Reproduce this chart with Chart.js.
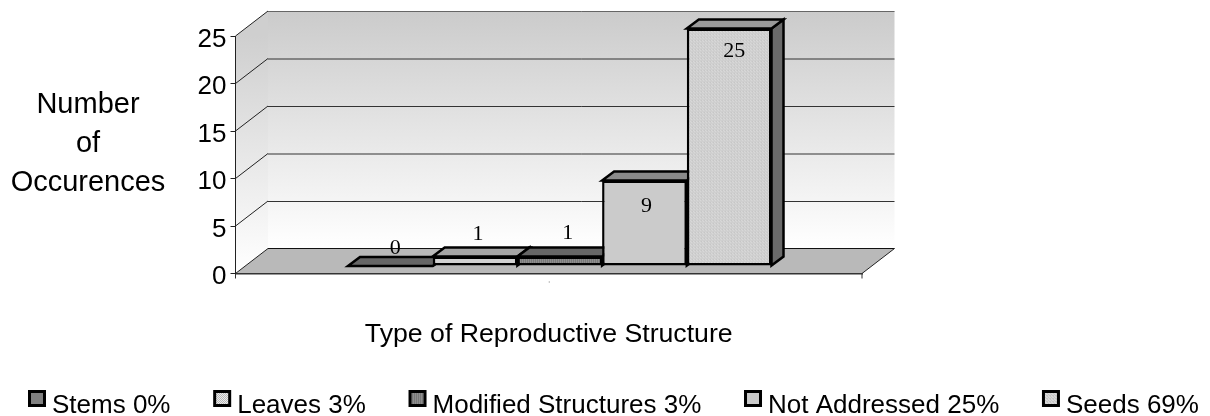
<!DOCTYPE html>
<html>
<head>
<meta charset="utf-8">
<style>html,body{margin:0;padding:0;background:#fff}#box{width:1210px;height:416px}</style>
<script src="https://cdn.jsdelivr.net/npm/chart.js@4/dist/chart.umd.min.js"></script>
</head>
<body>
<div id="box"><canvas id="c" width="1210" height="416"></canvas></div>
<script>
const categories = [""];
const seriesNames = ["Stems", "Leaves", "Modified Structures", "Not Addressed", "Seeds"];
const seriesShares = ["0%", "3%", "3%", "25%", "69%"];
const stemsValues = [0];
const leavesValues = [1];
const modifiedValues = [1];
const notAddressedValues = [9];
const seedsValues = [25];
const yTicks = [0, 5, 10, 15, 20, 25];
const yAxisTitle = ["Number", "of", "Occurences"];
const xAxisTitle = "Type of Reproductive Structure";

// depth geometry (pixels)
const WALL = {dx: 32.5, dy: -25};
const BAR_SHIFT = {dx: 11, dy: -7.5};
const BAR_DEPTH = {dx: 12, dy: -9};
const SANS = '"Liberation Sans", Arial, sans-serif';
const SERIF = '"Liberation Serif", "Times New Roman", serif';
const LABEL_NUDGE = [[5, -18], [3, -22], [8, -23], [2, 26], [5, 23]];

function pattern(w, h, bg, fg, cells) {
  const c = document.createElement('canvas'); c.width = w; c.height = h;
  const x = c.getContext('2d');
  x.fillStyle = bg; x.fillRect(0, 0, w, h);
  x.fillStyle = fg; cells.forEach(p => x.fillRect(p[0], p[1], 1, 1));
  return x.createPattern(c, 'repeat');
}
const FRONTS = [
  '#808080',
  pattern(2, 2, '#ececec', '#b8b8b8', [[0, 0], [1, 1]]),
  pattern(2, 1, '#8e8e8e', '#787878', [[0, 0]]),
  '#cbcbcb',
  pattern(3, 3, '#d8d8d8', '#c6c6c6', [[0, 0], [1, 1], [2, 2], [0, 2]])
];
const TOPS = ['#666666', '#a6a6a6', '#666666', '#8a8a8a', '#9a9a9a'];
const SIDES = ['#555555', '#777777', '#555555', '#777777', '#6a6a6a'];

function poly(ctx, pts, fill, stroke, lw) {
  ctx.beginPath();
  pts.forEach((p, i) => i ? ctx.lineTo(p[0], p[1]) : ctx.moveTo(p[0], p[1]));
  ctx.closePath();
  if (fill) { ctx.fillStyle = fill; ctx.fill(); }
  if (stroke) { ctx.strokeStyle = stroke; ctx.lineWidth = lw; ctx.lineJoin = 'miter'; ctx.stroke(); }
}
function seg(ctx, x0, y0, x1, y1, color, lw) {
  ctx.beginPath(); ctx.moveTo(x0, y0); ctx.lineTo(x1, y1);
  ctx.strokeStyle = color; ctx.lineWidth = lw; ctx.stroke();
}

const scene3d = {
  id: 'scene3d',
  beforeDraw(chart) {
    const {ctx, chartArea: a, scales: {y}} = chart;
    const L = a.left, R = a.right, T = y.getPixelForValue(25), B = y.getPixelForValue(0);
    const dx = WALL.dx, dy = WALL.dy;
    ctx.save();
    const g = ctx.createLinearGradient(0, T + dy, 0, B + dy);
    g.addColorStop(0, '#cbcbcb'); g.addColorStop(1, '#ffffff');
    poly(ctx, [[L + dx, T + dy], [R + dx, T + dy], [R + dx, B + dy], [L + dx, B + dy]], g);
    const g2 = ctx.createLinearGradient(0, T, 0, B);
    g2.addColorStop(0, '#cfcfcf'); g2.addColorStop(1, '#ffffff');
    poly(ctx, [[L, T], [L + dx, T + dy], [L + dx, B + dy], [L, B]], g2);
    poly(ctx, [[L, B], [L + dx, B + dy], [R + dx, B + dy], [R, B]], '#b9b9b9');
    yTicks.forEach(v => {
      const py = y.getPixelForValue(v);
      if (v > 0) seg(ctx, L + dx, py + dy + 0.5, R + dx, py + dy + 0.5, v === 25 ? '#666' : '#333', 1);
      seg(ctx, L, py, L + dx, py + dy, '#222', 1);
    });
    seg(ctx, L + dx, B + dy, R + dx, B + dy, '#111', 1.2);
    seg(ctx, R, B, R + dx, B + dy, '#222', 1);
    seg(ctx, R, B, R, B + 5, '#333', 1);
    seg(ctx, L, B, L, B + 5, '#333', 1);
    ctx.fillStyle = '#bbb'; ctx.fillRect((L + R) / 2, B + 7.5, 1, 2);
    ctx.restore();
  },
  beforeDatasetsDraw(chart) {
    const {ctx} = chart;
    ctx.save();
    ctx.translate(BAR_SHIFT.dx, BAR_SHIFT.dy);
    chart.data.datasets.forEach((d, i) => {
      const b = chart.getDatasetMeta(i).data[0];
      const l = b.x - b.width / 2, r = b.x + b.width / 2;
      const dx = BAR_DEPTH.dx, dy = BAR_DEPTH.dy;
      poly(ctx, [[r, b.y], [r + dx, b.y + dy], [r + dx, b.base + dy], [r, b.base]], SIDES[i], '#000', 2.5);
      poly(ctx, [[l, b.y], [l + dx, b.y + dy], [r + dx, b.y + dy], [r, b.y]], TOPS[i], '#000', 2.5);
    });
  },
  afterDatasetsDraw(chart) {
    const {ctx} = chart;
    ctx.restore();
    ctx.save();
    ctx.font = '22px ' + SERIF;
    ctx.fillStyle = '#000';
    ctx.textAlign = 'center';
    ctx.textBaseline = 'middle';
    chart.data.datasets.forEach((d, i) => {
      const b = chart.getDatasetMeta(i).data[0];
      ctx.fillText(String(d.data[0]), b.x + LABEL_NUDGE[i][0] + BAR_SHIFT.dx, b.y + LABEL_NUDGE[i][1] + BAR_SHIFT.dy);
    });
    ctx.restore();
  },
  afterDraw(chart) {
    const {ctx} = chart;
    ctx.save();
    // vertical-axis caption, written horizontally on three lines
    ctx.font = '29px ' + SANS;
    ctx.fillStyle = '#000';
    ctx.textAlign = 'center';
    ctx.textBaseline = 'alphabetic';
    yAxisTitle.forEach((t, i) => ctx.fillText(t, 88, 113 + i * 39));
    // legend row
    ctx.font = '26px ' + SANS;
    ctx.textAlign = 'left';
    let x = 28;
    chart.data.datasets.forEach((d, i) => {
      ctx.fillStyle = d.backgroundColor;
      ctx.fillRect(x + 1.5, 391.5, 15, 14);
      ctx.strokeStyle = '#000'; ctx.lineWidth = 3;
      ctx.strokeRect(x + 1.5, 391.5, 15, 14);
      ctx.fillStyle = '#000';
      ctx.fillText(d.label, x + 24, 412.5);
      x += 24 + ctx.measureText(d.label).width + 42.7;
    });
    ctx.restore();
  }
};

const allSeries = [stemsValues, leavesValues, modifiedValues, notAddressedValues, seedsValues];
new Chart(document.getElementById('c'), {
  type: 'bar',
  plugins: [scene3d],
  data: {
    labels: categories,
    datasets: seriesNames.map((n, i) => ({
      label: n + ' ' + seriesShares[i],
      data: allSeries[i],
      backgroundColor: FRONTS[i],
      borderColor: '#000',
      borderWidth: 2.5,
      borderSkipped: false,
      clip: false,
      categoryPercentage: 0.676,
      barPercentage: 1
    }))
  },
  options: {
    responsive: false,
    animation: false,
    layout: {padding: {left: 0, right: 348, top: 36, bottom: 0}},
    plugins: {legend: {display: false}, tooltip: {enabled: false}, title: {display: false}},
    scales: {
      x: {
        ticks: {display: false},
        grid: {display: false},
        border: {display: true, color: '#333', width: 1.5},
        title: {display: true, text: xAxisTitle, color: '#000',
          font: {family: SANS, size: 26.7}, padding: {top: 0, bottom: 65}},
        afterFit(s) { s.height = 142.5; }
      },
      y: {
        min: 0, max: 25,
        ticks: {stepSize: 5, color: '#000', font: {family: SANS, size: 26}, padding: 4, labelOffset: 3.5},
        grid: {display: true, drawOnChartArea: false, drawTicks: true, tickLength: 5, color: '#222', lineWidth: 1},
        border: {display: true, color: '#222', width: 1},
        afterFit(s) { s.width = 235.5; }
      }
    }
  }
});
</script>
</body>
</html>
